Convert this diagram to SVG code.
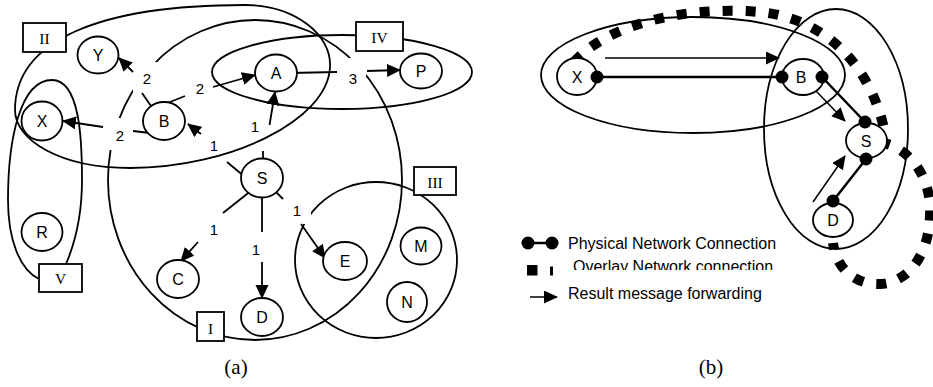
<svg xmlns="http://www.w3.org/2000/svg" width="933" height="387" viewBox="0 0 933 387">
<defs>
<style>
.sh{fill:none;stroke:#000;stroke-width:1.8}
.nd{fill:#fff;stroke:#000;stroke-width:1.8}
.bx{fill:#fff;stroke:#000;stroke-width:1.8}
.e{fill:none;stroke:#000;stroke-width:1.8}
.ea{fill:none;stroke:#000;stroke-width:1.8;marker-end:url(#ah)}
.gap{fill:#fff;stroke:none}
.t{font-family:"Liberation Sans",Arial,sans-serif;font-size:16px;text-anchor:middle;fill:#000}
.l{font-family:"Liberation Sans",Arial,sans-serif;font-size:15px;text-anchor:middle;fill:#000}
.r{font-family:"Liberation Serif","Times New Roman",serif;font-size:15.5px;text-anchor:middle;fill:#000}
.cap{font-family:"Liberation Serif","Times New Roman",serif;font-size:21px;text-anchor:middle;fill:#000}
.lg{font-family:"Liberation Sans",Arial,sans-serif;font-size:16px;fill:#000}
.ph{fill:none;stroke:#000;stroke-width:2.5}
.ov{fill:none;stroke:#000;stroke-width:10;stroke-dasharray:10 13}
.dot{fill:#000}
</style>
<marker id="ah" markerUnits="userSpaceOnUse" markerWidth="16" markerHeight="14" refX="13" refY="6.5" orient="auto"><path d="M0,0 L14,6.5 L0,13 z" fill="#000"/></marker>
<clipPath id="clipov"><rect x="560" y="250" width="240" height="20"/></clipPath>
</defs>
<rect x="0" y="0" width="933" height="387" fill="#fff"/>

<!-- Panel (a): groups / sets -->
<g id="sets-a">
  <ellipse id="set-I" class="sh" cx="255" cy="180" rx="147" ry="160"/>
  <path id="set-II" class="sh" d="M15,110 C15,40 100,5 245,5 C295,5 332,35 330,67 C328,120 230,168 130,168 C60,168 15,140 15,110 Z"/>
  <ellipse id="set-IV" class="sh" cx="342" cy="72" rx="130" ry="37"/>
  <ellipse id="set-III" class="sh" cx="376" cy="260" rx="81" ry="78"/>
  <path id="set-V" class="sh" d="M39,279 C20,270 8,240 8,200 C8,140 20,80 52,80 C80,80 82,140 82,180 C82,220 72,250 66,264"/>
  <rect class="gap" x="106" y="118" width="24" height="32"/>
  <rect class="gap" x="133" y="62" width="26" height="30"/>
  <rect class="gap" x="340" y="58" width="26" height="22"/>
  <rect class="gap" x="291" y="199" width="20" height="25"/>
</g>

<g id="connectors-a">
  <line class="e" x1="263" y1="151" x2="263" y2="160"/>
  <line class="ea" x1="269.5" y1="125" x2="275" y2="92"/>
  <line class="e" x1="245" y1="177" x2="227" y2="162"/>
  <line class="ea" x1="201" y1="134" x2="188" y2="124"/>
  <line class="e" x1="252" y1="190" x2="223" y2="213"/>
  <line class="ea" x1="198" y1="242" x2="181" y2="261"/>
  <line class="e" x1="262" y1="190" x2="262" y2="232"/>
  <line class="ea" x1="262" y1="262" x2="262" y2="298"/>
  <line class="e" x1="272" y1="188" x2="283" y2="199"/>
  <line class="ea" x1="301" y1="224" x2="325" y2="258"/>
  <line class="e" x1="165" y1="104" x2="185" y2="96"/>
  <line class="ea" x1="213" y1="87" x2="255" y2="75"/>
  <line class="e" x1="151" y1="106" x2="142" y2="93"/>
  <line class="ea" x1="133" y1="72" x2="119" y2="58"/>
  <line class="e" x1="150" y1="133" x2="133" y2="131"/>
  <line class="ea" x1="103" y1="127" x2="63" y2="121"/>
  <line class="e" x1="290" y1="73" x2="337" y2="72"/>
  <line class="ea" x1="367" y1="71" x2="400" y2="70"/>
  <text class="l" x="147" y="84">2</text>
  <text class="l" x="200" y="94">2</text>
  <text class="l" x="120" y="141">2</text>
  <text class="l" x="353" y="84">3</text>
  <text class="l" x="255" y="132">1</text>
  <text class="l" x="214" y="151">1</text>
  <text class="l" x="214" y="235">1</text>
  <text class="l" x="256" y="255">1</text>
  <text class="l" x="297" y="216">1</text>
</g>

<g id="node-Y"><ellipse class="nd" cx="98" cy="55" rx="20.5" ry="18.5"/><text class="t" x="98" y="61">Y</text></g>
<g id="node-X"><ellipse class="nd" cx="42" cy="121" rx="20.5" ry="19.5"/><text class="t" x="42" y="127">X</text></g>
<g id="node-B"><ellipse class="nd" cx="164" cy="121" rx="21" ry="19"/><text class="t" x="164" y="127">B</text></g>
<g id="node-A"><ellipse class="nd" cx="276" cy="73" rx="21" ry="18.5"/><text class="t" x="276" y="79">A</text></g>
<g id="node-P"><ellipse class="nd" cx="421" cy="71" rx="21" ry="17.5"/><text class="t" x="421" y="77">P</text></g>
<g id="node-S"><ellipse class="nd" cx="262" cy="178" rx="21" ry="19.5"/><text class="t" x="262" y="184">S</text></g>
<g id="node-C"><ellipse class="nd" cx="178" cy="279" rx="21" ry="19"/><text class="t" x="178" y="285">C</text></g>
<g id="node-D"><ellipse class="nd" cx="262" cy="317" rx="21" ry="19"/><text class="t" x="262" y="323">D</text></g>
<g id="node-E"><ellipse class="nd" cx="345" cy="261" rx="22" ry="19"/><text class="t" x="345" y="267">E</text></g>
<g id="node-M"><ellipse class="nd" cx="421" cy="246" rx="20.5" ry="18.5"/><text class="t" x="421" y="252">M</text></g>
<g id="node-N"><ellipse class="nd" cx="407" cy="302" rx="20" ry="20"/><text class="t" x="407" y="308">N</text></g>
<g id="node-R"><ellipse class="nd" cx="42" cy="232" rx="20.5" ry="19"/><text class="t" x="42" y="238">R</text></g>

<g id="label-II"><rect class="bx" x="23" y="23" width="43" height="29"/><text class="r" x="44.5" y="44">II</text></g>
<g id="label-IV"><rect class="bx" x="356" y="22" width="47" height="29"/><text class="r" x="379.5" y="43">IV</text></g>
<g id="label-III"><rect class="bx" x="414" y="167" width="42" height="28"/><text class="r" x="435" y="188">III</text></g>
<g id="label-V"><rect class="bx" x="39" y="264" width="43" height="28"/><text class="r" x="60.5" y="284">V</text></g>
<g id="label-I"><rect class="bx" x="197" y="312" width="27" height="29"/><text class="r" x="210.5" y="334">I</text></g>

<text class="cap" x="236" y="374">(a)</text>

<!-- Panel (b) -->
<g id="sets-b">
  <ellipse class="sh" cx="693" cy="75" rx="152" ry="58"/>
  <ellipse class="sh" cx="836" cy="129" rx="72" ry="120"/>
</g>

<g id="connectors-b">
  <path class="ov" d="M574,62 C610,22 690,6 760,12 C822,18 872,62 886,138"/>
  <path class="ov" d="M880,142 C912,148 932,180 930,215 C929,255 908,283 880,284 C855,285 836,268 833,243"/>
  <line class="ph" x1="597" y1="77" x2="782" y2="77"/>
  <line class="ph" x1="822" y1="77" x2="865" y2="122"/>
  <line class="ph" x1="866" y1="159" x2="833" y2="201"/>
  <line class="ea" x1="605" y1="58" x2="779" y2="58" style="stroke-width:1.5"/>
  <line class="ea" x1="815" y1="90" x2="845" y2="121" style="stroke-width:1.5"/>
  <line class="ea" x1="813" y1="202" x2="845" y2="156" style="stroke-width:1.5"/>
</g>

<g id="node-bX"><ellipse class="nd" cx="577" cy="76.5" rx="20" ry="18.5"/><text class="t" x="577" y="82.5">X</text></g>
<g id="node-bB"><ellipse class="nd" cx="803" cy="77" rx="21" ry="18"/><text class="t" x="801" y="83">B</text></g>
<g id="node-bS"><ellipse class="nd" cx="866.5" cy="140.5" rx="20.5" ry="17.5"/><text class="t" x="866" y="146.5">S</text></g>
<g id="node-bD"><ellipse class="nd" cx="833" cy="220" rx="20" ry="17"/><text class="t" x="833" y="226">D</text></g>

<g id="dots-b">
  <circle class="dot" cx="597" cy="77" r="6.5"/>
  <circle class="dot" cx="782" cy="77" r="6.5"/>
  <circle class="dot" cx="822" cy="77" r="6.5"/>
  <circle class="dot" cx="865" cy="122" r="6.5"/>
  <circle class="dot" cx="866" cy="159" r="6.5"/>
  <circle class="dot" cx="833" cy="201" r="6.5"/>
</g>

<g id="legend">
  <line class="ph" x1="528" y1="243" x2="552" y2="243"/>
  <circle class="dot" cx="528" cy="243" r="6.5"/>
  <circle class="dot" cx="552" cy="243" r="6.5"/>
  <text class="lg" x="568" y="249">Physical Network Connection</text>
  <rect x="527" y="265" width="10.5" height="10.5" fill="#000"/>
  <rect x="550" y="266.5" width="3" height="9" fill="#000"/>
  <text class="lg" x="573" y="272" clip-path="url(#clipov)">Overlay Network connection</text>
  <line class="ea" x1="530" y1="297" x2="557" y2="297" style="stroke-width:1.5"/>
  <text class="lg" x="568" y="299">Result message forwarding</text>
</g>

<text class="cap" x="711" y="374">(b)</text>
</svg>
